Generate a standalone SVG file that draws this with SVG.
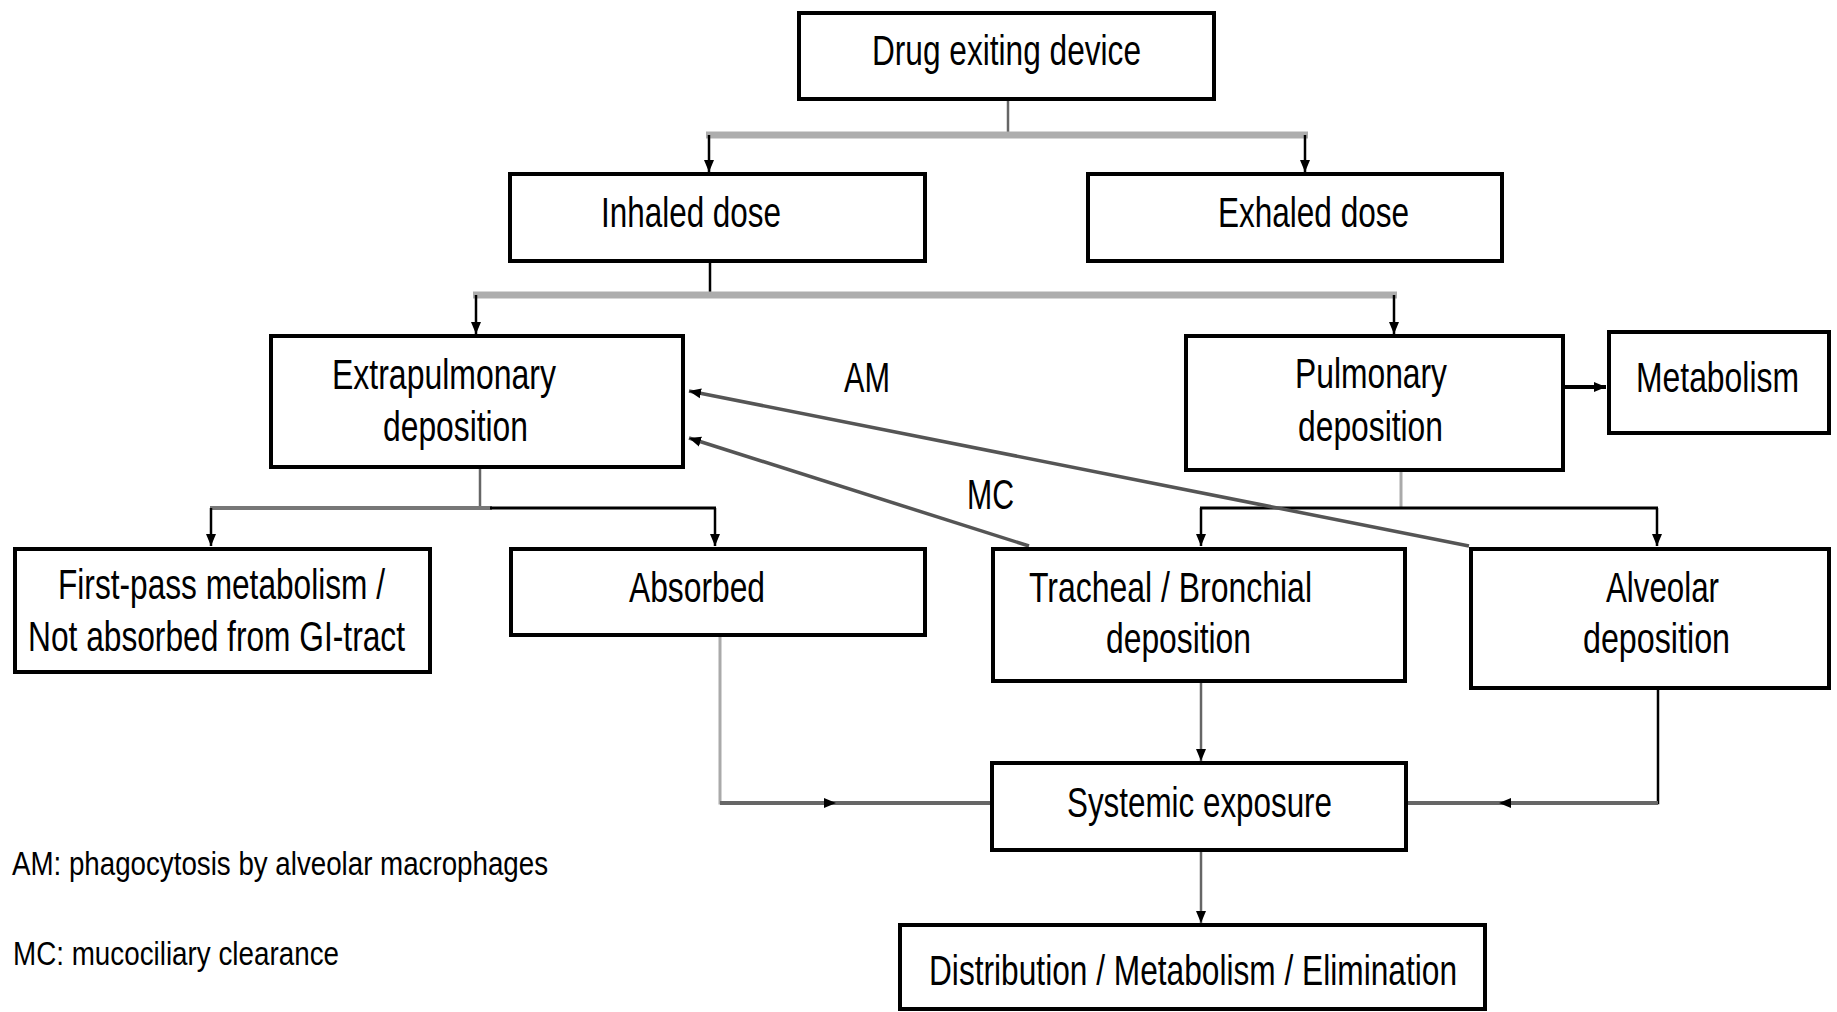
<svg xmlns="http://www.w3.org/2000/svg" width="1837" height="1012" viewBox="0 0 1837 1012">
<style>
.box{fill:#fff;stroke:#000;stroke-width:4}
.t{font-family:"Liberation Sans Narrow","Liberation Sans",Arial,sans-serif;font-size:43px;fill:#000;text-anchor:middle}
.lg{font-family:"Liberation Sans",Arial,sans-serif;font-size:34px;fill:#000}
.ln{fill:none;stroke:#000;stroke-width:2.5}
.gl{fill:none;stroke:#666;stroke-width:2.5}
.bar{fill:none;stroke:#adadad;stroke-width:7}
.dg{fill:none;stroke:#555;stroke-width:3.5}
</style>
<defs>
<marker id="ah" viewBox="0 0 12 10" refX="12" refY="5" markerWidth="12" markerHeight="11" markerUnits="userSpaceOnUse" orient="auto">
<path d="M0,0 L12,5 L0,10 z" fill="#000"/>
</marker>
</defs>
<g id="connectors">
<line class="gl" x1="1008" y1="100" x2="1008" y2="135"/>
<line class="bar" x1="706" y1="135" x2="1308" y2="135"/>
<line class="ln" x1="709" y1="135" x2="709" y2="172" marker-end="url(#ah)"/>
<line class="ln" x1="1305" y1="135" x2="1305" y2="172" marker-end="url(#ah)"/>
<line class="ln" x1="710" y1="263" x2="710" y2="295"/>
<line class="bar" x1="473" y1="295" x2="1397" y2="295"/>
<line class="ln" x1="476" y1="295" x2="476" y2="334" marker-end="url(#ah)"/>
<line class="ln" x1="1394" y1="295" x2="1394" y2="334" marker-end="url(#ah)"/>
<line class="gl" x1="480" y1="469" x2="480" y2="508"/>
<line style="fill:none;stroke:#777;stroke-width:4" x1="210" y1="508" x2="492" y2="508"/>
<line style="fill:none;stroke:#000;stroke-width:3" x1="490" y1="508" x2="716" y2="508"/>
<line class="ln" x1="211" y1="508" x2="211" y2="546" marker-end="url(#ah)"/>
<line class="ln" x1="715" y1="508" x2="715" y2="546" marker-end="url(#ah)"/>
<line style="fill:none;stroke:#aaa;stroke-width:3" x1="1401" y1="472" x2="1401" y2="508"/>
<line style="fill:none;stroke:#000;stroke-width:3" x1="1200" y1="508" x2="1658" y2="508"/>
<line class="ln" x1="1201" y1="508" x2="1201" y2="546" marker-end="url(#ah)"/>
<line class="ln" x1="1657" y1="508" x2="1657" y2="546" marker-end="url(#ah)"/>
<line style="fill:none;stroke:#000;stroke-width:4" x1="1565" y1="387" x2="1606" y2="387" marker-end="url(#ah)"/>
<line class="dg" x1="1469" y1="546" x2="689" y2="391" marker-end="url(#ah)"/>
<line class="dg" x1="1029" y1="546" x2="689" y2="438" marker-end="url(#ah)"/>
<polyline style="fill:none;stroke:#aaa;stroke-width:3" points="720,637 720,803 735,803"/>
<line style="fill:none;stroke:#666;stroke-width:4" x1="720" y1="803" x2="836" y2="803" marker-end="url(#ah)"/>
<line style="fill:none;stroke:#666;stroke-width:4" x1="836" y1="803" x2="990" y2="803"/>
<line class="gl" x1="1201" y1="683" x2="1201" y2="761" marker-end="url(#ah)"/>
<polyline style="fill:none;stroke:#000;stroke-width:2.5" points="1658,690 1658,803 1645,803"/>
<line style="fill:none;stroke:#666;stroke-width:4" x1="1658" y1="803" x2="1499" y2="803" marker-end="url(#ah)"/>
<line style="fill:none;stroke:#666;stroke-width:4" x1="1499" y1="803" x2="1408" y2="803"/>
<line class="gl" x1="1201" y1="852" x2="1201" y2="923" marker-end="url(#ah)"/>
</g>
<g id="drug"><rect class="box" x="799" y="13" width="415" height="86"/><text class="t" x="1006.5" y="65" textLength="269" lengthAdjust="spacingAndGlyphs">Drug exiting device</text></g>
<g id="inhaled"><rect class="box" x="510" y="174" width="415" height="87"/><text class="t" x="691" y="227" textLength="180" lengthAdjust="spacingAndGlyphs">Inhaled dose</text></g>
<g id="exhaled"><rect class="box" x="1088" y="174" width="414" height="87"/><text class="t" x="1313.5" y="227" textLength="191" lengthAdjust="spacingAndGlyphs">Exhaled dose</text></g>
<g id="extrapulmonary"><rect class="box" x="271" y="336" width="412" height="131"/><text class="t" x="444" y="389" textLength="224" lengthAdjust="spacingAndGlyphs">Extrapulmonary</text><text class="t" x="455.5" y="441" textLength="145" lengthAdjust="spacingAndGlyphs">deposition</text></g>
<g id="pulmonary"><rect class="box" x="1186" y="336" width="377" height="134"/><text class="t" x="1371" y="388" textLength="152" lengthAdjust="spacingAndGlyphs">Pulmonary</text><text class="t" x="1370.5" y="441" textLength="145" lengthAdjust="spacingAndGlyphs">deposition</text></g>
<g id="metabolism"><rect class="box" x="1609" y="332" width="220" height="101"/><text class="t" x="1717.5" y="392" textLength="163" lengthAdjust="spacingAndGlyphs">Metabolism</text></g>
<g id="label-am"><text class="t" x="867" y="392" textLength="46" lengthAdjust="spacingAndGlyphs">AM</text></g>
<g id="label-mc"><text class="t" x="990.5" y="509" textLength="47" lengthAdjust="spacingAndGlyphs">MC</text></g>
<g id="firstpass"><rect class="box" x="15" y="549" width="415" height="123"/><text class="t" x="221.5" y="599" textLength="327" lengthAdjust="spacingAndGlyphs">First-pass metabolism /</text><text class="t" x="216.5" y="651" textLength="377" lengthAdjust="spacingAndGlyphs">Not absorbed from GI-tract</text></g>
<g id="absorbed"><rect class="box" x="511" y="549" width="414" height="86"/><text class="t" x="697" y="602" textLength="136" lengthAdjust="spacingAndGlyphs">Absorbed</text></g>
<g id="tracheal"><rect class="box" x="993" y="549" width="412" height="132"/><text class="t" x="1170.5" y="602" textLength="283" lengthAdjust="spacingAndGlyphs">Tracheal / Bronchial</text><text class="t" x="1178.5" y="653" textLength="145" lengthAdjust="spacingAndGlyphs">deposition</text></g>
<g id="alveolar"><rect class="box" x="1471" y="549" width="358" height="139"/><text class="t" x="1662.5" y="602" textLength="113" lengthAdjust="spacingAndGlyphs">Alveolar</text><text class="t" x="1656.5" y="653" textLength="147" lengthAdjust="spacingAndGlyphs">deposition</text></g>
<g id="systemic"><rect class="box" x="992" y="763" width="414" height="87"/><text class="t" x="1199.5" y="817" textLength="265" lengthAdjust="spacingAndGlyphs">Systemic exposure</text></g>
<g id="distribution"><rect class="box" x="900" y="925" width="585" height="84"/><text class="t" x="1193" y="985" textLength="528" lengthAdjust="spacingAndGlyphs">Distribution / Metabolism / Elimination</text></g>
<g id="legend"><text class="lg" x="12" y="875" textLength="536" lengthAdjust="spacingAndGlyphs">AM: phagocytosis by alveolar macrophages</text><text class="lg" x="13" y="965" textLength="326" lengthAdjust="spacingAndGlyphs">MC: mucociliary clearance</text></g>
</svg>
